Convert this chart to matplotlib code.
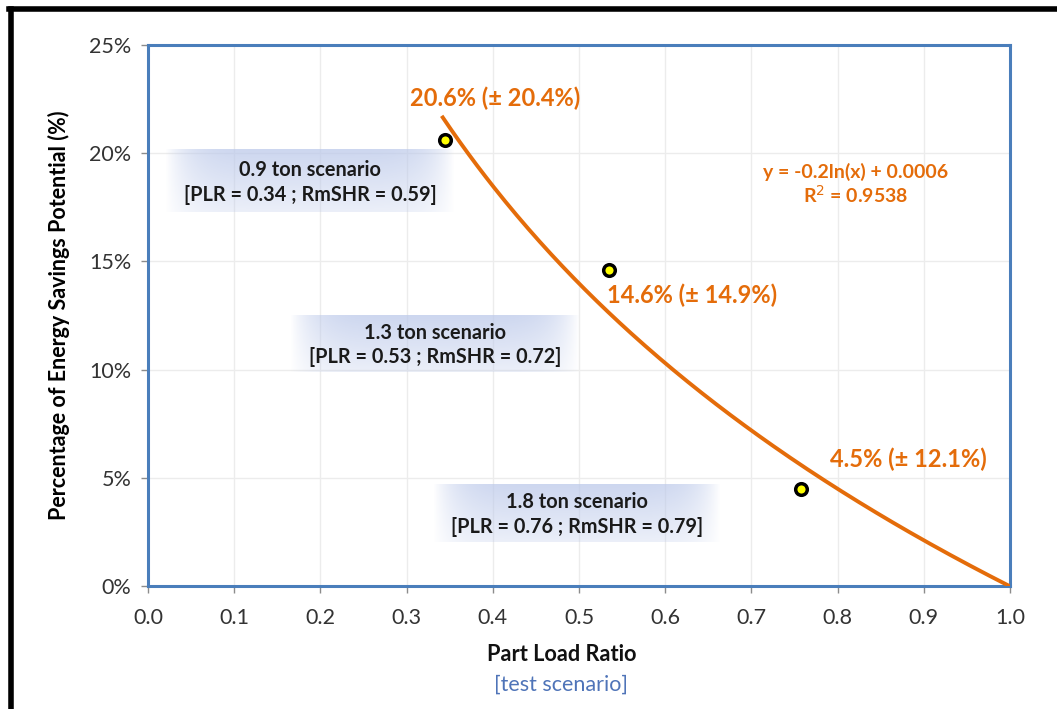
import numpy as np
import matplotlib.pyplot as plt
from matplotlib.lines import Line2D

plt.rcParams['font.family'] = ['Lato', 'DejaVu Sans']

# measured points (part load ratio, savings fraction)
plr = [0.345, 0.535, 0.757]
savings = [0.206, 0.146, 0.045]
point_labels = ['20.6% (\u00b1 20.4%)', '14.6% (\u00b1 14.9%)', '4.5% (\u00b1 12.1%)']
scenario_labels = ['0.9 ton scenario\n[PLR = 0.34 ; RmSHR = 0.59]',
                   '1.3 ton scenario\n[PLR = 0.53 ; RmSHR = 0.72]',
                   '1.8 ton scenario\n[PLR = 0.76 ; RmSHR = 0.79]']
x_ticks = [0.0, 0.1, 0.2, 0.3, 0.4, 0.5, 0.6, 0.7, 0.8, 0.9, 1.0]
y_ticks = [0.0, 0.05, 0.10, 0.15, 0.20, 0.25]

orange = '#e46c0a'
blue = '#4a7ebb'

# logarithmic trendline, fitted the same way the spreadsheet does
slope, intercept = np.polyfit(np.log(plr), savings, 1)
x_fit = np.linspace(0.342, 1.0, 200)
y_fit = slope * np.log(x_fit) + intercept

fig = plt.figure(figsize=(10.57, 7.09), dpi=100)
ax = fig.add_axes([0.140, 0.1735, 0.8155, 0.763])

ax.set_xlim(0, 1.0)
ax.set_ylim(0, 0.25)
ax.set_xticks(x_ticks)
ax.set_xticklabels([f'{t:.1f}' for t in x_ticks])
ax.set_yticks(y_ticks)
ax.set_yticklabels([f'{t*100:.0f}%' for t in y_ticks])
ax.tick_params(labelsize=15.5, colors='#8c8c8c', labelcolor='#333333', length=5, width=1, pad=7)
ax.tick_params(axis='x', pad=11)
ax.grid(True, color='#ececec', linewidth=1)
ax.set_axisbelow(True)
for s in ax.spines.values():
    s.set_color(blue)
    s.set_linewidth(2.2)

# label boxes with a soft gradient
grad_y = np.linspace(0, 1, 50)[:, None]
grad_x = np.linspace(-1, 1, 200)[None, :]
alpha = np.clip(0.3 + 0.45 * grad_y, 0, 1) * np.clip((1 - np.abs(grad_x) ** 6), 0, 1)
rgba = np.zeros((50, 200, 4))
rgba[..., 0] = 0.74
rgba[..., 1] = 0.79
rgba[..., 2] = 0.92
rgba[..., 3] = alpha
boxes = [(0.02, 0.356, 0.1728, 0.2015),
         (0.165, 0.501, 0.0989, 0.1252),
         (0.331, 0.664, 0.0203, 0.0471)]
for (x0, x1, y0, y1), label in zip(boxes, scenario_labels):
    ax.imshow(rgba, extent=[x0, x1, y0, y1], origin='lower', aspect='auto', zorder=1)
    ax.text((x0 + x1) / 2, (y0 + y1) / 2 - 0.0007, label, ha='center', va='center',
            fontsize=14.3, fontweight='bold', color='#1a1a1a', linespacing=1.3, zorder=2)

ax.plot(x_fit, y_fit, color=orange, linewidth=2.8, zorder=3)
ax.scatter(plr, savings, s=70, facecolor='#ffff00', edgecolor='black', linewidth=2.5, zorder=4)

offsets = [(0.0576, 0.0195), (0.096, -0.0115), (0.1247, 0.0137)]
for x, y, lab, (dx, dy) in zip(plr, savings, point_labels, offsets):
    ax.text(x + dx, y + dy, lab, ha='center', va='center', fontsize=17,
            fontweight='bold', color=orange, zorder=5)

ax.text(0.821, 0.1855, 'y = -0.2ln(x) + 0.0006\nR$^2$ = 0.9538', ha='center', va='center',
        fontsize=14, fontweight='bold', color=orange, linespacing=1.15)

ax.set_ylabel('Percentage of Energy Savings Potential (%)', fontsize=15.5,
              fontweight='bold', labelpad=14)
fig.text(0.531, 0.0762, 'Part Load Ratio', ha='center', va='center', fontsize=15.7,
         fontweight='bold', color='#111111')
fig.text(0.531, 0.034, '[test scenario]', ha='center', va='center', fontsize=15.5,
         color='#4f74b8')

# outer frame (left and top edges)
fig.add_artist(Line2D([0.0105, 0.0105], [0.0, 0.987], color='black', linewidth=4,
                      transform=fig.transFigure))
fig.add_artist(Line2D([0.0085, 1.0], [0.987, 0.987], color='black', linewidth=4,
                      transform=fig.transFigure))

fig.savefig('out.png', dpi=100)
